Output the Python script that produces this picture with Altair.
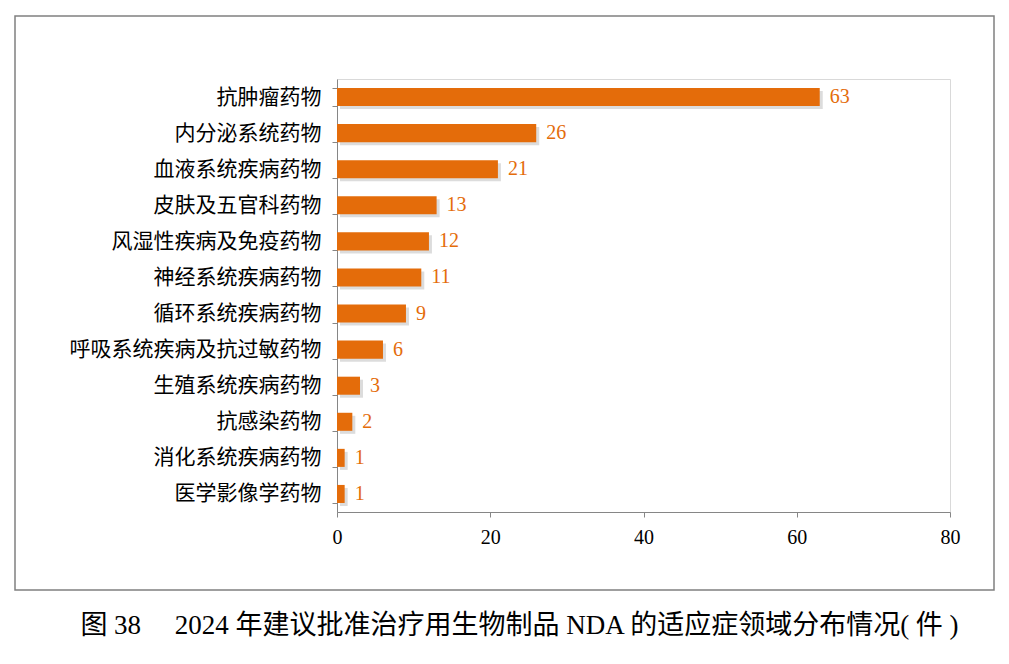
import altair as alt
import pandas as pd

categories = ["抗肿瘤药物", "内分泌系统药物", "血液系统疾病药物", "皮肤及五官科药物",
              "风湿性疾病及免疫药物", "神经系统疾病药物", "循环系统疾病药物",
              "呼吸系统疾病及抗过敏药物", "生殖系统疾病药物", "抗感染药物",
              "消化系统疾病药物", "医学影像学药物"]
counts = [63, 26, 21, 13, 12, 11, 9, 6, 3, 2, 1, 1]
x_ticks = [0, 20, 40, 60, 80]
title_text = "图 38　 2024 年建议批准治疗用生物制品 NDA 的适应症领域分布情况( 件 )"

df = pd.DataFrame({"cat": categories, "n": counts})

W, H = 613, 433
ORANGE = "#E46C0A"
SERIF = "Liberation Serif, Noto Sans CJK SC, serif"
CJK = "Noto Sans CJK SC, sans-serif"

y_enc = alt.Y("cat:N", sort=categories,
              scale=alt.Scale(paddingInner=0.5, paddingOuter=0.25),
              axis=alt.Axis(title=None, labelFont=CJK, labelFontSize=21, labelColor="#000000",
                            domainColor="#868686", tickColor="#868686", tickSize=5,
                            tickBand="extent", labelPadding=11, labelLimit=400))
x_enc = alt.X("n:Q", scale=alt.Scale(domain=[0, 80]),
              axis=alt.Axis(title=None, values=x_ticks, grid=False, labelFont=SERIF,
                            labelFontSize=20, labelColor="#000000", domainColor="#868686",
                            tickColor="#868686", tickSize=5, labelPadding=10,
                            labelFlush=False))

base = alt.Chart(df)

frame = alt.Chart(alt.Data(values=[{"k": 1}])).mark_rect(
    fill=None, stroke="#808080", strokeWidth=1.5, clip=False
).encode(x=alt.value(-322), x2=alt.value(657), y=alt.value(-63), y2=alt.value(511))

shadow = base.mark_bar(color="#9a9a9a", opacity=0.35, xOffset=3, yOffset=3).encode(y=y_enc, x=x_enc)
bars = base.mark_bar(color=ORANGE).encode(y=y_enc, x=x_enc)
labels = base.mark_text(align="left", dx=10, font=SERIF, fontSize=20, color=ORANGE).encode(
    y=y_enc, x=x_enc, text="n:Q")

chart = alt.layer(frame, shadow, bars, labels).properties(
    width=W, height=H,
    autosize=alt.AutoSizeParams(type="none"),
    padding={"left": 329, "top": 71, "right": 50, "bottom": 140},
    title=alt.TitleParams(title_text, orient="bottom", anchor="middle", dx=-124, offset=22,
                          font=SERIF, fontSize=27, fontWeight="normal", color="#000000"),
).configure_view(stroke="#d9d9d9")

chart.save("out.html", embed_options={"renderer": "svg", "actions": False})
